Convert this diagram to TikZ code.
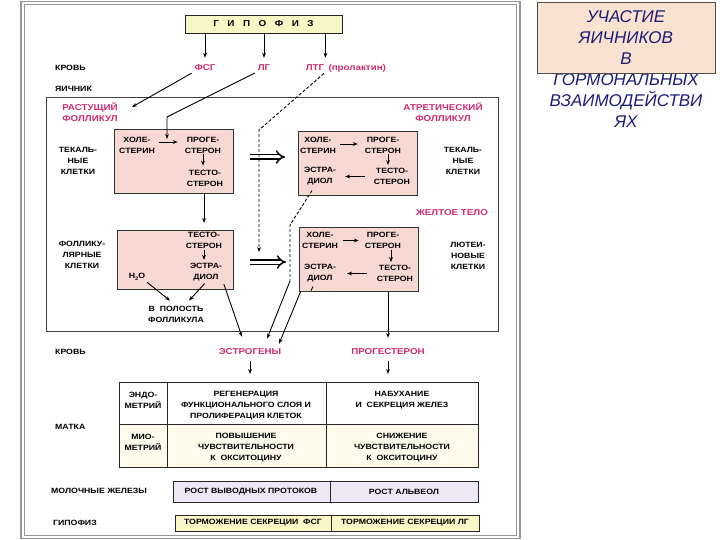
\documentclass[tikz,border=0pt]{standalone}
\usepackage{fontspec}
\setmainfont{Liberation Sans}
\newfontfamily\bodyf[FakeStretch=1.15]{Liberation Sans}
\newfontfamily\titlef{Liberation Sans}
\usetikzlibrary{arrows.meta}
\definecolor{pinktxt}{RGB}{208,40,112}
\definecolor{boxpink}{RGB}{247,216,210}
\definecolor{gipfill}{RGB}{250,246,198}
\definecolor{lavfill}{RGB}{238,232,246}
\definecolor{creamfill}{RGB}{254,250,236}
\definecolor{titlefill}{RGB}{250,226,208}
\definecolor{navytxt}{RGB}{28,28,120}
\definecolor{framegray}{RGB}{150,150,150}
\begin{document}
\begin{tikzpicture}[x=1pt,y=-1pt,
  lbl/.style={font=\bodyf\bfseries\fontsize{7.6}{11}\selectfont, align=center, inner sep=1pt},
  plbl/.style={lbl, text=pinktxt, font=\bodyf\bfseries\fontsize{8.5}{11}\selectfont},
  cbox/.style={draw=black!80, line width=0.8pt, fill=boxpink, anchor=north west, inner sep=0pt},
  arr/.style={-{Stealth[length=5pt,width=3.8pt]}, line width=0.9pt},
  dsh/.style={dash pattern=on 3pt off 2pt, line width=0.9pt},
  dbl/.style={-{Implies}, double, double distance=3pt, line width=1.5pt}
]
\useasboundingbox (0,0) rectangle (720,540);

% outer frame
\draw[framegray, line width=1.2pt] (21,1.5) rectangle (520,538.5);
\draw[framegray, line width=0.6pt] (24.5,4.5) rectangle (516.5,535.5);

% title
\fill[titlefill] (537,2) rectangle (715,73);
\node[font=\titlef\itshape\fontsize{17}{21}\selectfont, text=navytxt, align=center, inner sep=0pt] (title) at (626,69)
  {УЧАСТИЕ\\ЯИЧНИКОВ\\В\\ГОРМОНАЛЬНЫХ\\ВЗАИМОДЕЙСТВИ\\ЯХ};
\draw[black!70, line width=0.8pt] (537,2) rectangle (715,73);

% pituitary
\node[lbl, font=\bodyf\bfseries\fontsize{8.6}{11}\selectfont, draw=black!85, line width=0.8pt, fill=gipfill, minimum width=157pt, minimum height=18pt] (gip) at (263.5,24)
  {Г\hspace{8.5pt}И\hspace{8.5pt}П\hspace{8.5pt}О\hspace{8.5pt}Ф\hspace{8.5pt}И\hspace{8.5pt}З};

\node[lbl, anchor=west] (krov1) at (54,68) {КРОВЬ};
\node[lbl, anchor=west] (yaich) at (54,89) {ЯИЧНИК};
\node[plbl] (fsg) at (205,68) {ФСГ};
\node[plbl] (lg) at (264,68) {ЛГ};
\node[plbl] (ltg) at (315,68) {ЛТГ};
\node[plbl, anchor=west, inner sep=0pt] (prl) at ([xshift=3pt]ltg.east) {(пролактин)};

% ovary frame
\node[draw=black!75, line width=0.9pt, minimum width=452pt, minimum height=234pt, anchor=north west, inner sep=0pt] (ovary) at (46,97) {};

\node[plbl] (rast) at (90,112) {РАСТУЩИЙ\\ФОЛЛИКУЛ};
\node[lbl] (tek1) at (78,161) {ТЕКАЛЬ-\\НЫЕ\\КЛЕТКИ};
\node[lbl] (foll) at (82,255) {ФОЛЛИКУ-\\ЛЯРНЫЕ\\КЛЕТКИ};
\node[plbl] (atr) at (443,112) {АТРЕТИЧЕСКИЙ\\ФОЛЛИКУЛ};
\node[lbl] (tek2) at (463,161) {ТЕКАЛЬ-\\НЫЕ\\КЛЕТКИ};
\node[plbl] (zhelt) at (452,213) {ЖЕЛТОЕ ТЕЛО};
\node[lbl] (lut) at (468,256) {ЛЮТЕИ-\\НОВЫЕ\\КЛЕТКИ};

% boxes
\node[cbox, minimum width=119pt, minimum height=64pt] (t1) at (114,129) {};
\node[cbox, minimum width=116pt, minimum height=59pt] (g1) at (117,230) {};
\node[cbox, minimum width=119pt, minimum height=64pt] (a1) at (298,131) {};
\node[cbox, minimum width=119pt, minimum height=64pt] (l1) at (299,227) {};

% growing follicle theca
\node[lbl] (t1hol) at (137,145) {ХОЛЕ-\\СТЕРИН};
\node[lbl] (t1pro) at (203,145) {ПРОГЕ-\\СТЕРОН};
\node[lbl] (t1tes) at (205,178) {ТЕСТО-\\СТЕРОН};
\draw[arr, shorten <=3pt, shorten >=6pt] ([yshift=3pt]t1hol.east) -- ([yshift=3pt]t1pro.west);
\draw[arr, shorten >=3pt] (t1pro.south) -- (t1pro.south |- t1tes.north);

% granulosa
\node[lbl] (g1tes) at (204,240.5) {ТЕСТО-\\СТЕРОН};
\node[lbl] (g1est) at (206,272) {ЭСТРА-\\ДИОЛ};
\node[lbl] (h2o) at (137,277) {H\raisebox{-0.4ex}{\fontsize{5}{5}\selectfont 2}O};
\node[lbl] (polost) at (176,314) {В\ \ ПОЛОСТЬ\\ФОЛЛИКУЛА};
\draw[arr, shorten >=2pt] (g1tes.south) -- (g1tes.south |- g1est.north);
\draw[arr, shorten <=1pt] (h2o.south east) -- ([xshift=-6pt,yshift=4pt]polost.north);
\draw[arr, shorten <=2pt] (g1est.south) -- ([xshift=13pt,yshift=4pt]polost.north);

% atretic
\node[lbl] (a1hol) at (318,145) {ХОЛЕ-\\СТЕРИН};
\node[lbl] (a1pro) at (383,145) {ПРОГЕ-\\СТЕРОН};
\node[lbl] (a1est) at (320,176.5) {ЭСТРА-\\ДИОЛ};
\node[lbl] (a1tes) at (392,176.5) {ТЕСТО-\\СТЕРОН};
\draw[arr, shorten <=3pt, shorten >=6pt] ([yshift=1pt]a1hol.east) -- ([yshift=1pt]a1pro.west);
\draw[arr, shorten >=2pt] ([xshift=5pt]a1pro.south) -- ([xshift=5pt]a1pro.south |- a1tes.north);
\draw[arr, shorten <=8pt, shorten >=8pt] (a1tes.west) -- (a1est.east);

% luteal
\node[lbl] (l1hol) at (320,240.5) {ХОЛЕ-\\СТЕРИН};
\node[lbl] (l1pro) at (383,240.5) {ПРОГЕ-\\СТЕРОН};
\node[lbl] (l1est) at (320,273.5) {ЭСТРА-\\ДИОЛ};
\node[lbl] (l1tes) at (395,273.5) {ТЕСТО-\\СТЕРОН};
\draw[arr, shorten <=4pt, shorten >=5pt] (l1hol.east) -- (l1pro.west);
\draw[arr, shorten >=2pt] ([xshift=8pt]l1pro.south) -- ([xshift=8pt]l1pro.south |- l1tes.north);
\draw[arr, shorten <=9pt, shorten >=10pt] (l1tes.west) -- (l1est.east);
\draw[line width=0.8pt] ([xshift=-7pt,yshift=-3pt]l1est.south) -- ++(-2,4);

% double arrows
\coordinate (da1s) at (250,157);
\coordinate (da1e) at (285,157);
\coordinate (da2s) at (250,262);
\coordinate (da2e) at (286,262);
\draw[dbl] (da1s) -- (da1e);
\draw[dbl] (da2s) -- (da2e);

% hormones from pituitary
\draw[arr, shorten >=6pt] (gip.south -| fsg) -- (fsg.north);
\draw[arr, shorten >=6pt] (gip.south -| lg) -- (lg.north);
\draw[arr, shorten >=6pt] (gip.south -| ltg.north east) -- (ltg.north east);

\coordinate (rastarr) at (132,107);
\draw[arr, shorten <=2pt] (fsg.south west) -- (rastarr);
\coordinate (lhbend) at (167,117);
\coordinate (lhend) at (167,139);
\draw[arr, line join=round, shorten <=2pt] (lg.south west) -- (lhbend) -- (lhend);
\coordinate (ltgbend) at (259,130);
\coordinate (ltgend) at (259,252);
\draw[dsh, arr, shorten <=2pt] (ltg.south east) -- (ltgbend) -- (ltgend);

% theca -> granulosa
\draw[arr, shorten >=7pt] (t1.south -| g1tes) -- (g1.north -| g1tes);

% blood level
\node[lbl, anchor=west] (krov2) at (54,352) {КРОВЬ};
\node[plbl] (estr) at (250,352) {ЭСТРОГЕНЫ};
\node[plbl] (prog) at (388,352) {ПРОГЕСТЕРОН};

\draw[arr, shorten <=2pt] (g1est.south east) -- ([xshift=-8pt,yshift=11pt]estr.north);
\coordinate (ab1) at (290,225);
\coordinate (ab2) at (290,281);
\draw[dsh] ([xshift=-8pt,yshift=-4pt]a1est.south) -- (ab1) -- (ab2);
\draw[arr] (ab2) -- ([xshift=17pt,yshift=9pt]estr.north);
\draw[arr] ([xshift=1.5pt]l1.south west) -- ([xshift=29pt,yshift=4pt]estr.north);
\draw[arr, shorten >=10pt] (l1.south -| prog) -- (prog.north);

% table
\fill[white] (119,382) rectangle (478,424);
\fill[creamfill] (119,424) rectangle (478,467);
\node[draw=black!85, line width=0.9pt, minimum width=359pt, minimum height=85pt, anchor=north west, inner sep=0pt] (tbl) at (119,382) {};
\draw[black!85, line width=0.9pt] (167,382) -- (167,467) (326,382) -- (326,467) (119,424) -- (478,424);
\draw[arr, shorten <=5pt, shorten >=8pt] (estr.south) -- (estr.south |- tbl.north);
\draw[arr, shorten <=5pt, shorten >=8pt] (prog.south) -- (prog.south |- tbl.north);

\node[lbl, anchor=west] (matka) at (54,427) {МАТКА};
\node[lbl] (endo) at (143,400) {ЭНДО-\\МЕТРИЙ};
\node[lbl] (regen) at (246,406) {РЕГЕНЕРАЦИЯ\\ФУНКЦИОНАЛЬНОГО СЛОЯ И\\ПРОЛИФЕРАЦИЯ КЛЕТОК};
\node[lbl] (nabuh) at (402,400.5) {НАБУХАНИЕ\\И\ \ СЕКРЕЦИЯ ЖЕЛЕЗ};
\node[lbl] (mio) at (143,442) {МИО-\\МЕТРИЙ};
\node[lbl] (povysh) at (246,448) {ПОВЫШЕНИЕ\\ЧУВСТВИТЕЛЬНОСТИ\\К\ \ ОКСИТОЦИНУ};
\node[lbl] (snizh) at (402,448) {СНИЖЕНИЕ\\ЧУВСТВИТЕЛЬНОСТИ\\К\ \ ОКСИТОЦИНУ};

% mammary
\node[lbl, anchor=west] (moloch) at (50,491) {МОЛОЧНЫЕ ЖЕЛЕЗЫ};
\node[draw=black!85, line width=0.9pt, fill=lavfill, minimum width=305pt, minimum height=21pt, anchor=north west, inner sep=0pt] (milk) at (173,481) {};
\draw[black!85, line width=0.9pt] (330,481) -- (330,502);
\node[lbl] (rostv) at (251,491.5) {РОСТ ВЫВОДНЫХ ПРОТОКОВ};
\node[lbl] (rosta) at (404,491.5) {РОСТ АЛЬВЕОЛ};

% pituitary inhibition
\node[lbl, anchor=west] (gip2) at (52,522.5) {ГИПОФИЗ};
\node[draw=black!85, line width=0.8pt, fill=gipfill, minimum width=304pt, minimum height=16pt, anchor=north west, inner sep=0pt] (inh) at (175,515) {};
\draw[black!85, line width=0.8pt] (331,515) -- (331,531);
\node[lbl] (tfsg) at (253,523) {ТОРМОЖЕНИЕ СЕКРЕЦИИ\ \ ФСГ};
\node[lbl] (tlg) at (405,523) {ТОРМОЖЕНИЕ СЕКРЕЦИИ ЛГ};
\end{tikzpicture}
\end{document}
